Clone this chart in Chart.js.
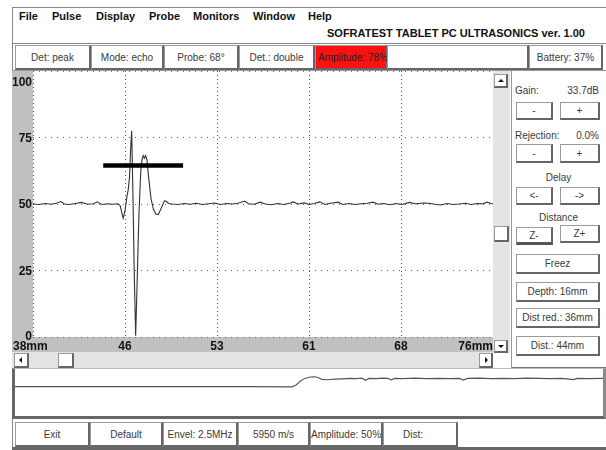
<!DOCTYPE html>
<html>
<head>
<meta charset="utf-8">
<title>A-scan</title>
<script src="https://cdn.jsdelivr.net/npm/chart.js@4.4.1/dist/chart.umd.min.js"></script>
<style>
  body { margin: 0; width: 606px; height: 450px; overflow: hidden; background: #fff; position: relative;
         font-family: "Liberation Sans", Arial, sans-serif; }
  .abs { position: absolute; box-sizing: border-box; }
  .menu { position: absolute; top: 10px; font-size: 11px; font-weight: bold; color: #111; }
  .btn { position: absolute; box-sizing: border-box; background: #fff; color: #3a3a3a; font-size: 10px;
         border: 1px solid #9a9a9a; border-right: 2px solid #666; border-bottom: 2px solid #666;
         display: flex; align-items: center; justify-content: center; white-space: nowrap; }
  .lbl { position: absolute; font-size: 10px; color: #3a3a3a; white-space: nowrap; }
  .tri { position: absolute; width: 0; height: 0; }
</style>
</head>
<body>
<!-- window frame -->
<div class="abs" style="left:12px;top:7px;width:594px;height:443px;border-left:1px solid #888;border-top:1px solid #888;"></div>

<!-- menu -->
<div class="menu" style="left:19px">File</div>
<div class="menu" style="left:52px">Pulse</div>
<div class="menu" style="left:96px">Display</div>
<div class="menu" style="left:149px">Probe</div>
<div class="menu" style="left:193px">Monitors</div>
<div class="menu" style="left:253px">Window</div>
<div class="menu" style="left:308px">Help</div>
<div class="menu" style="left:327px;top:27px">SOFRATEST TABLET PC ULTRASONICS ver. 1.00</div>

<!-- toolbar -->
<div class="abs" style="left:12px;top:43px;width:594px;height:28px;border-top:1px solid #888;border-bottom:1px solid #999;"></div>
<div class="btn" style="left:15px;top:45px;width:76px;height:25px">Det: peak</div>
<div class="btn" style="left:91px;top:45px;width:73px;height:25px">Mode: echo</div>
<div class="btn" style="left:164px;top:45px;width:75px;height:25px">Probe: 68°</div>
<div class="btn" style="left:239px;top:45px;width:76px;height:25px">Det.: double</div>
<div class="btn" style="left:315px;top:45px;width:72px;height:25px;background:#ff1010;color:#222;justify-content:flex-start;padding-left:2px">Amplitude: 78%</div>
<div class="btn" style="left:387px;top:45px;width:142px;height:25px"></div>
<div class="btn" style="left:529px;top:45px;width:74px;height:25px">Battery: 37%</div>

<!-- main A-scan -->
<canvas id="scan" class="abs" width="481" height="281" style="left:12px;top:71px"></canvas>

<!-- vertical scrollbar -->
<div class="abs" style="left:493px;top:71px;width:17px;height:282px;background:#e4e4e4"></div>
<div class="btn" style="left:494px;top:74px;width:14px;height:14px"></div>
<div class="tri" style="left:498px;top:79px;border-left:3px solid transparent;border-right:3px solid transparent;border-bottom:3px solid #111"></div>
<div class="btn" style="left:494px;top:226px;width:15px;height:16px"></div>
<div class="btn" style="left:494px;top:340px;width:14px;height:13px"></div>
<div class="tri" style="left:498px;top:345px;border-left:3px solid transparent;border-right:3px solid transparent;border-top:3px solid #111"></div>

<!-- horizontal scrollbar -->
<div class="abs" style="left:12px;top:352px;width:481px;height:16px;background:#e3e3e3"></div>
<div class="btn" style="left:14px;top:353px;width:15px;height:15px"></div>
<div class="tri" style="left:19px;top:357px;border-top:3px solid transparent;border-bottom:3px solid transparent;border-right:3px solid #111"></div>
<div class="btn" style="left:58px;top:353px;width:16px;height:15px"></div>
<div class="btn" style="left:479px;top:353px;width:14px;height:15px"></div>
<div class="tri" style="left:485px;top:357px;border-top:3px solid transparent;border-bottom:3px solid transparent;border-left:3px solid #111"></div>

<!-- right control panel -->
<div class="abs" style="left:511px;top:71px;width:95px;height:297px;border-left:1px solid #999;border-bottom:1px solid #777"></div>
<div class="lbl" style="left:515px;top:85px">Gain:</div>
<div class="lbl" style="left:560px;top:85px;width:39px;text-align:right">33.7dB</div>
<div class="btn" style="left:516px;top:102px;width:37px;height:18px">-</div>
<div class="btn" style="left:560px;top:102px;width:40px;height:18px">+</div>
<div class="lbl" style="left:515px;top:130px">Rejection:</div>
<div class="lbl" style="left:560px;top:130px;width:39px;text-align:right">0.0%</div>
<div class="btn" style="left:516px;top:144px;width:37px;height:19px">-</div>
<div class="btn" style="left:560px;top:144px;width:40px;height:19px">+</div>
<div class="lbl" style="left:511px;top:172px;width:95px;text-align:center">Delay</div>
<div class="btn" style="left:516px;top:187px;width:37px;height:18px">&lt;-</div>
<div class="btn" style="left:560px;top:187px;width:40px;height:18px">-&gt;</div>
<div class="lbl" style="left:511px;top:212px;width:95px;text-align:center">Distance</div>
<div class="btn" style="left:516px;top:227px;width:37px;height:18px;border-bottom:3px solid #555">Z-</div>
<div class="btn" style="left:560px;top:225px;width:40px;height:18px">Z+</div>
<div class="btn" style="left:516px;top:254px;width:84px;height:20px">Freez</div>
<div class="btn" style="left:516px;top:282px;width:84px;height:20px">Depth: 16mm</div>
<div class="btn" style="left:516px;top:308px;width:84px;height:20px">Dist red.: 36mm</div>
<div class="btn" style="left:516px;top:336px;width:84px;height:20px">Dist.: 44mm</div>

<!-- lower overview strip -->
<div class="abs" style="left:12px;top:368px;width:594px;height:51px;background:#fff;border-left:3px solid #666;border-bottom:3px solid #666;border-right:3px solid #8a8a8a;border-top:1px solid #bbb"></div>
<canvas id="strip" class="abs" width="588" height="47" style="left:15px;top:369px"></canvas>

<!-- bottom buttons -->
<div class="btn" style="left:15px;top:422px;width:75px;height:25px">Exit</div>
<div class="btn" style="left:90px;top:422px;width:73px;height:25px">Default</div>
<div class="btn" style="left:163px;top:422px;width:75px;height:25px">Envel: 2.5MHz</div>
<div class="btn" style="left:238px;top:422px;width:72px;height:25px">5950 m/s</div>
<div class="btn" style="left:310px;top:422px;width:73px;height:25px">Amplitude: 50%</div>
<div class="btn" style="left:383px;top:422px;width:75px;height:25px;justify-content:flex-start;padding-left:19px">Dist:</div>
<div class="abs" style="left:12px;top:447px;width:594px;height:3px;background:#666"></div>

<script>
// echo trace: depth (mm) and amplitude (% screen height)
const depthMm = [
  38.0, 38.5, 39.0, 39.5, 40.0, 40.3, 40.6, 41.0, 41.5, 42.0, 42.5, 43.0, 43.3, 43.7, 44.2, 44.6, 45.0,
  45.2, 45.35, 45.45, 45.6, 45.75, 45.87, 45.97, 46.06, 46.15, 46.25, 46.36, 46.48, 46.6, 46.75, 46.9,
  47.0, 47.1, 47.2, 47.3, 47.42, 47.55, 47.75, 47.95, 48.15, 48.35, 48.6, 48.85, 49.0, 49.2,
  49.5, 50.0, 50.5, 51.0, 51.5, 52.0, 52.5, 53.0, 53.5, 54.0, 54.5, 55.0, 55.5, 55.8, 56.3, 56.75,
  57.2, 57.7, 58.2, 58.7, 59.2, 59.5, 59.9, 60.4, 60.8, 61.2, 61.7, 62.1, 62.6, 63.2, 63.6, 64.1,
  64.6, 65.1, 65.6, 66.1, 66.5, 67.0, 67.5, 68.0, 68.5, 69.1, 69.6, 70.2, 70.7, 71.2, 71.7, 72.2,
  72.7, 73.2, 73.7, 74.2, 74.7, 75.2, 75.5, 76.0
];
const amplitudePct = [
  50.0, 49.8, 50.2, 49.9, 50.4, 50.9, 50.0, 49.8, 50.2, 50.6, 49.9, 50.1, 50.8, 49.8, 50.1, 49.9, 50.1,
  49.4, 46.5, 44.7, 47.5, 52.5, 55.5, 60.0, 70.0, 77.5, 55.0, 25.0, 0.5, 20.0, 46.0, 62.0,
  66.5, 68.2, 67.2, 68.2, 66.5, 60.0, 52.0, 48.0, 46.2, 46.0, 48.5, 51.2, 51.0, 50.2,
  50.0, 49.8, 50.2, 49.9, 50.3, 49.8, 50.1, 50.4, 49.8, 50.2, 50.0, 50.4, 51.1, 50.1, 49.9, 50.7,
  50.0, 49.7, 50.2, 49.8, 50.3, 50.8, 50.0, 50.4, 49.8, 50.2, 50.8, 49.8, 50.3, 50.7, 49.8, 50.2,
  49.8, 50.1, 50.3, 50.7, 49.9, 50.2, 49.7, 50.2, 49.8, 50.6, 50.1, 50.4, 50.3, 49.9, 49.6, 50.2,
  49.8, 50.0, 50.3, 49.8, 50.2, 50.1, 50.7, 50.0
];
// gate bar
const gateMm = [43.8, 50.4];
const gateLevel = [64.5, 64.5];
// axes
const xTickValues = [38, 45.6, 53.2, 60.8, 68.4, 76];
const xTickLabels = ['38mm', '46', '53', '61', '68', '76mm'];
const yTickValues = [0, 25, 50, 75, 100];

// overview strip trace (position % of width, level %)
const stripPos = [
  0, 20, 40, 46.5, 47.1, 47.8, 48.5, 49.3, 50.2, 51.0, 51.5, 52.2, 53.0, 53.6, 54.5, 55.5, 56.2, 57.0,
  58.0, 59.0, 59.6, 60.2, 61.5, 62.5, 63.4, 64.0, 64.6, 66.0, 68.0, 70.0, 72.0, 74.0, 75.6, 76.2, 77.0,
  79.0, 81.0, 83.0, 85.0, 87.0, 89.0, 91.0, 93.0, 95.0, 95.6, 97.5, 100
];
const stripLevel = [
  62.5, 62.5, 62.5, 62, 62, 66, 74, 80, 83, 83.5, 82, 78, 77, 77.5, 78.5, 79, 79.5, 80,
  79.5, 80.5, 76, 80, 79.5, 80.5, 80, 77, 80, 79.5, 80.5, 79.5, 80, 79.5, 80, 76.5, 80,
  80.5, 79.5, 80, 79.5, 80.5, 80, 79.5, 80, 77.5, 80, 79.5, 80
];

const uiFont = '"Liberation Sans", Arial, sans-serif';

// gray label area, white plot area
const panelBg = {
  id: 'panelBg',
  beforeDraw(chart) {
    const { ctx, chartArea: a } = chart;
    ctx.save();
    ctx.fillStyle = '#c0c0c0';
    ctx.fillRect(0, 0, chart.width, chart.height);
    ctx.fillStyle = '#fff';
    ctx.fillRect(a.left, a.top, a.right - a.left, a.bottom - a.top);
    ctx.restore();
  }
};

// tick labels drawn at the scale positions (first/last kept inside)
const axisText = {
  id: 'axisText',
  afterDraw(chart) {
    const { ctx, chartArea: a, scales: { x, y } } = chart;
    ctx.save();
    ctx.font = 'bold 12px ' + uiFont;
    ctx.fillStyle = '#111';
    ctx.textBaseline = 'middle';
    ctx.textAlign = 'right';
    yTickValues.forEach(v => {
      const py = Math.min(Math.max(y.getPixelForValue(v), a.top + 11), a.bottom - 1);
      ctx.fillText(String(v), a.left - 1, py + 1);
    });
    xTickValues.forEach((v, i) => {
      const last = i === xTickValues.length - 1;
      ctx.textAlign = i === 0 ? 'left' : last ? 'right' : 'center';
      ctx.fillText(xTickLabels[i], i === 0 ? 1 : x.getPixelForValue(v), a.bottom + 10);
    });
    ctx.restore();
  }
};

new Chart(document.getElementById('scan'), {
  type: 'line',
  data: {
    datasets: [
      {
        data: gateMm.map((m, i) => ({ x: m, y: gateLevel[i] })),
        borderColor: '#000',
        borderWidth: 4.5,
        borderCapStyle: 'butt',
        pointRadius: 0
      },
      {
        data: depthMm.map((m, i) => ({ x: m, y: amplitudePct[i] })),
        borderColor: '#333',
        borderWidth: 1.1,
        pointRadius: 0,
        tension: 0
      }
    ]
  },
  options: {
    responsive: false,
    animation: false,
    layout: { padding: 0 },
    plugins: { legend: { display: false }, tooltip: { enabled: false } },
    scales: {
      x: {
        type: 'linear', min: 38, max: 76,
        afterBuildTicks: s => { s.ticks = xTickValues.map(v => ({ value: v })); },
        afterFit: s => { s.height = 15; },
        ticks: { display: false },
        grid: { color: '#555', lineWidth: 1, drawTicks: false },
        border: { display: false, dash: [1, 3] }
      },
      y: {
        min: 0, max: 100,
        afterBuildTicks: s => { s.ticks = yTickValues.map(v => ({ value: v })); },
        afterFit: s => { s.width = 21; },
        ticks: { display: false },
        grid: { color: '#666', lineWidth: 1, drawTicks: false },
        border: { display: false, dash: [1, 5] }
      }
    }
  },
  plugins: [panelBg, axisText]
});

new Chart(document.getElementById('strip'), {
  type: 'line',
  data: {
    datasets: [{
      data: stripPos.map((p, i) => ({ x: p, y: stripLevel[i] })),
      borderColor: '#555',
      borderWidth: 1.1,
      pointRadius: 0,
      tension: 0
    }]
  },
  options: {
    responsive: false,
    animation: false,
    layout: { padding: 0 },
    plugins: { legend: { display: false }, tooltip: { enabled: false } },
    scales: {
      x: { type: 'linear', min: 0, max: 100, display: false },
      y: { min: 0, max: 100, display: false }
    }
  }
});
</script>
</body>
</html>
